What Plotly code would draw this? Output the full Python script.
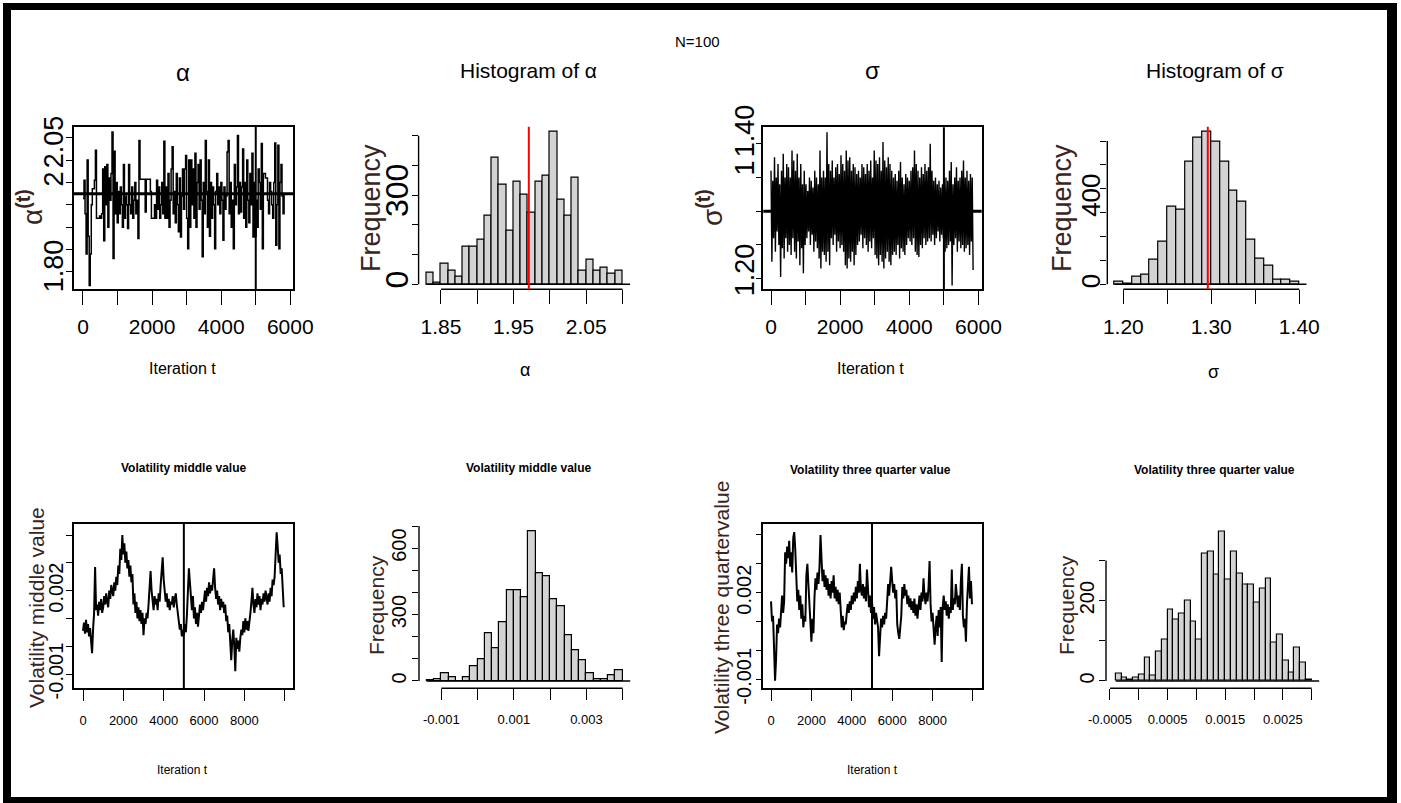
import plotly.graph_objects as go

W, H = 1401, 803

# ---------------- data ----------------
burn_in = 5000

alpha_trace_step = 30
alpha_trace = [
    1.964, 2.005, 1.93, 1.84, 2.05, 1.88, 1.77, 1.84, 1.95, 1.986,
    1.986, 2.005, 2.072, 1.92, 1.92, 1.92, 1.925, 1.92, 1.93, 2.03,
    1.87, 2.035, 1.95, 2.04, 1.90, 2.01, 1.96, 2.02, 2.113, 1.83,
    2.07, 1.93, 2.00, 1.91, 1.98, 1.93, 1.99, 1.95, 1.90, 2.04,
    1.92, 1.97, 1.95, 1.897, 2.04, 1.95, 1.93, 1.99, 1.92, 1.96,
    2.00, 1.93, 1.96, 1.875, 2.094, 2.007, 2.007, 2.007, 2.007, 2.007,
    1.934, 2.007, 2.007, 2.007, 2.007, 1.98, 1.92, 1.92, 1.92, 1.95,
    1.92, 2.005, 1.94, 1.99, 1.92, 1.95, 2.00, 1.93, 2.092, 1.92,
    1.99, 1.92, 2.02, 1.90, 1.96, 2.03, 2.08, 1.93, 1.98, 1.91,
    2.02, 1.95, 1.89, 2.01, 1.878, 1.97, 2.03, 1.94, 2.03, 2.06,
    1.92, 1.852, 2.05, 1.90, 2.05, 1.95, 2.03, 1.92, 2.065, 1.90,
    2.00, 2.04, 1.94, 2.05, 1.96, 1.834, 2.00, 1.93, 2.094, 1.98,
    1.90, 2.05, 1.88, 2.00, 1.92, 1.99, 1.95, 1.852, 1.98, 2.02,
    1.95, 1.99, 1.93, 2.00, 1.96, 1.871, 1.99, 1.94, 1.97, 2.068,
    2.094, 1.93, 2.00, 1.90, 1.96, 1.852, 2.04, 1.95, 1.99, 2.105,
    1.93, 2.00, 1.934, 1.99, 2.075, 1.92, 2.00, 1.90, 2.05, 1.96,
    1.91, 2.02, 1.95, 2.065, 1.878, 2.00, 1.88, 1.96, 1.90, 2.03,
    2.00, 1.94, 2.087, 1.852, 2.02, 2.02, 2.01, 2.01, 1.96, 1.93,
    2.00, 1.98, 1.95, 1.92, 2.00, 2.088, 1.86, 1.95, 2.083, 1.852,
    2.00, 2.04, 1.97, 1.93, 1.975,
]
alpha_mean_line = 1.975

sigma_trace_step = 25.3
sigma_trace = [
    1.36, 1.225, 1.345, 1.26, 1.38, 1.24, 1.35, 1.27, 1.37, 1.25,
    1.34, 1.2025, 1.36, 1.245, 1.385, 1.23, 1.35, 1.26, 1.37, 1.24,
    1.365, 1.25, 1.35, 1.235, 1.39, 1.26, 1.375, 1.24, 1.36, 1.23,
    1.385, 1.255, 1.35, 1.22, 1.37, 1.245, 1.34, 1.208, 1.36, 1.25,
    1.34, 1.26, 1.33, 1.27, 1.35, 1.25, 1.345, 1.265, 1.335, 1.24,
    1.36, 1.255, 1.35, 1.245, 1.34, 1.23, 1.39, 1.215, 1.35, 1.24,
    1.36, 1.235, 1.35, 1.225, 1.417, 1.24, 1.37, 1.22, 1.36, 1.26,
    1.375, 1.25, 1.35, 1.265, 1.365, 1.24, 1.37, 1.255, 1.355, 1.245,
    1.383, 1.25, 1.37, 1.24, 1.36, 1.22, 1.39, 1.215, 1.375, 1.23,
    1.38, 1.225, 1.36, 1.24, 1.37, 1.22, 1.365, 1.235, 1.355, 1.25,
    1.36, 1.255, 1.35, 1.265, 1.37, 1.245, 1.365, 1.26, 1.355, 1.25,
    1.37, 1.24, 1.36, 1.255, 1.375, 1.245, 1.35, 1.26, 1.39, 1.235,
    1.375, 1.23, 1.37, 1.22, 1.38, 1.235, 1.36, 1.225, 1.4025, 1.215,
    1.375, 1.23, 1.365, 1.24, 1.38, 1.225, 1.37, 1.22, 1.36, 1.235,
    1.35, 1.24, 1.355, 1.235, 1.345, 1.25, 1.36, 1.23, 1.373, 1.245,
    1.35, 1.24, 1.34, 1.235, 1.355, 1.25, 1.35, 1.26, 1.345, 1.255,
    1.36, 1.25, 1.365, 1.26, 1.39, 1.24, 1.37, 1.235, 1.36, 1.232,
    1.35, 1.25, 1.365, 1.245, 1.355, 1.26, 1.37, 1.25, 1.36, 1.255,
    1.365, 1.26, 1.40, 1.255, 1.36, 1.265, 1.345, 1.25, 1.35, 1.26,
    1.34, 1.27, 1.345, 1.255, 1.335, 1.265, 1.34, 1.26, 1.35, 1.24,
    1.35, 1.245, 1.345, 1.25, 1.36, 1.255, 1.373, 1.19, 1.34, 1.25,
    1.35, 1.26, 1.365, 1.24, 1.345, 1.255, 1.35, 1.245, 1.36, 1.25,
    1.375, 1.24, 1.35, 1.245, 1.36, 1.25, 1.345, 1.235, 1.355, 1.255,
    1.35, 1.213,
]
sigma_mean_line = 1.30

alpha_hist_start = 1.83
alpha_hist_width = 0.01
alpha_hist_counts = [39, 7, 70, 46, 27, 125, 125, 150, 230, 426, 335, 180, 345, 303,
                     242, 345, 365, 515, 284, 230, 358, 45, 82, 45, 57, 37, 46]
alpha_hist_mean = 1.971

sigma_hist_start = 1.19
sigma_hist_width = 0.01
sigma_hist_counts = [11, 3, 32, 40, 102, 177, 325, 314, 513, 614, 639, 597, 513, 391,
                     346, 185, 109, 78, 18, 18, 10]
sigma_hist_mean = 1.296

vol_mid_step = 50
vol_mid_trace = [
    0.00055, 0.00085, 0.00045, 0.00095, 0.00050, 0.00080, 0.00035, 0.00065, 0.00020, -0.00025,
    0.00060, 0.00120, 0.00285, 0.00130, 0.00150, 0.00110, 0.00160, 0.00130, 0.00170, 0.00120,
    0.00140, 0.00180, 0.00150, 0.00190, 0.00160, 0.00140, 0.00200, 0.00170, 0.00220, 0.00190,
    0.00180, 0.00230, 0.00200, 0.00250, 0.00220, 0.00290, 0.00260, 0.00350, 0.00310, 0.00400,
    0.00330, 0.00370, 0.00300, 0.00340, 0.00280, 0.00310, 0.00250, 0.00290, 0.00230, 0.00260,
    0.00150, 0.00190, 0.00120, 0.00160, 0.00100, 0.00140, 0.00090, 0.00130, 0.00080, 0.00120,
    0.00040, 0.00100, 0.00080, 0.00120, 0.00100, 0.00150, 0.00200, 0.00270, 0.00200, 0.00160,
    0.00130, 0.00180, 0.00150, 0.00170, 0.00130, 0.00190, 0.00160, 0.00220, 0.00260, 0.00320,
    0.00240, 0.00200, 0.00160, 0.00190, 0.00140, 0.00170, 0.00130, 0.00160, 0.00150, 0.00180,
    0.00140, 0.00170, 0.00190, 0.00150, 0.00120, 0.00090, 0.00060, 0.00080, 0.00035, 0.00060,
    0.00040, 0.00080, 0.00050, 0.00110, 0.00190, 0.00280, 0.00230, 0.00160, 0.00130, 0.00180,
    0.00100, 0.00140, 0.00080, 0.00120, 0.00070, 0.00110, 0.00150, 0.00120, 0.00160, 0.00130,
    0.00170, 0.00200, 0.00160, 0.00210, 0.00180, 0.00230, 0.00190, 0.00220, 0.00200, 0.00250,
    0.00280, 0.00210, 0.00170, 0.00200, 0.00150, 0.00180, 0.00130, 0.00170, 0.00140, 0.00160,
    0.00120, 0.00150, 0.00090, 0.00110, 0.00050, 0.00080, 0.00030, -0.00050, 0.00020, 0.00060,
    0.00000, -0.00090, 0.00030, -0.00010, 0.00020, -0.00020, 0.00030, 0.00060, 0.00040, 0.00090,
    0.00050, 0.00100, 0.00060, 0.00090, 0.00055, 0.00080, 0.00120, 0.00160, 0.00210, 0.00150,
    0.00120, 0.00170, 0.00140, 0.00190, 0.00150, 0.00180, 0.00130, 0.00170, 0.00150, 0.00190,
    0.00160, 0.00200, 0.00170, 0.00150, 0.00190, 0.00160, 0.00210, 0.00180, 0.00240, 0.00220,
    0.00250, 0.00320, 0.00410, 0.00360, 0.00300, 0.00330, 0.00260, 0.00280, 0.00190, 0.00140,
]

vol_mid_hist_start = -0.0014
vol_mid_hist_width = 0.0002
vol_mid_hist_counts = [2, 9, 35, 18, 0, 18, 65, 99, 215, 148, 264, 411, 411, 380,
                       678, 486, 471, 369, 339, 208, 140, 92, 35, 9, 9, 27, 50]

vol_tq_step = 50
vol_tq_trace = [
    0.00170, 0.00100, 0.00120, 0.00010, -0.00105, -0.00030, 0.00090, 0.00060, 0.00110, 0.00080,
    0.00150, 0.00190, 0.00130, 0.00170, 0.00340, 0.00300, 0.00360, 0.00320, 0.00380, 0.00290,
    0.00340, 0.00270, 0.00390, 0.00410, 0.00350, 0.00230, 0.00170, 0.00210, 0.00140, 0.00190,
    0.00110, 0.00160, 0.00080, 0.00120, 0.00100, 0.00260, 0.00300, 0.00230, 0.00150, 0.00090,
    0.00030, 0.00110, 0.00060, 0.00180, 0.00250, 0.00210, 0.00270, 0.00230, 0.00290, 0.00400,
    0.00310, 0.00240, 0.00280, 0.00220, 0.00260, 0.00210, 0.00250, 0.00190, 0.00230, 0.00180,
    0.00240, 0.00200, 0.00260, 0.00180, 0.00220, 0.00170, 0.00210, 0.00160, 0.00200, 0.00120,
    0.00080, 0.00120, 0.00070, 0.00100, 0.00090, 0.00130, 0.00160, 0.00130, 0.00170, 0.00140,
    0.00190, 0.00160, 0.00200, 0.00170, 0.00220, 0.00180, 0.00240, 0.00200, 0.00300, 0.00210,
    0.00190, 0.00230, 0.00180, 0.00220, 0.00170, 0.00280, 0.00200, 0.00150, 0.00190, 0.00130,
    0.00170, 0.00110, 0.00150, 0.00090, 0.00130, 0.00100, 0.00080, -0.00020, 0.00070, 0.00110,
    0.00080, 0.00120, 0.00090, 0.00130, 0.00110, 0.00200, 0.00230, 0.00190, 0.00250, 0.00290,
    0.00240, 0.00200, 0.00230, 0.00180, 0.00210, 0.00090, 0.00060, 0.00040, 0.00080, 0.00120,
    0.00220, 0.00180, 0.00230, 0.00190, 0.00210, 0.00160, 0.00190, 0.00150, 0.00180, 0.00140,
    0.00170, 0.00130, 0.00180, 0.00120, 0.00160, 0.00110, 0.00150, 0.00190, 0.00140, 0.00200,
    0.00170, 0.00250, 0.00190, 0.00160, 0.00200, 0.00170, 0.00220, 0.00310, 0.00160, 0.00100,
    0.00130, 0.00070, 0.00020, 0.00080, 0.00120, 0.00050, 0.00140, 0.00080, 0.00150, -0.00040,
    0.00150, 0.00190, 0.00140, 0.00170, 0.00120, 0.00160, 0.00110, 0.00150, 0.00130, 0.00280,
    0.00140, 0.00180, 0.00160, 0.00230, 0.00170, 0.00150, 0.00190, 0.00140, 0.00240, 0.00300,
    0.00120, 0.00080, 0.00110, 0.00030, 0.00160, 0.00210, 0.00290, 0.00180, 0.00240, 0.00160,
]

vol_tq_hist_start = -0.0004
vol_tq_hist_width = 0.0001
vol_tq_hist_counts = [19, 9, 4, 9, 17, 59, 14, 72, 104, 177, 154, 168, 199, 149, 104, 318, 322,
                      264, 372, 253, 322, 268, 241, 241, 195, 231, 255, 95, 115, 51, 22, 82, 46, 4]

# tick marks
alpha_trace_xticks = [0, 1000, 2000, 3000, 4000, 5000, 6000]
alpha_trace_xlabels = ["0", "", "2000", "", "4000", "", "6000"]
alpha_trace_yticks = [1.80, 1.85, 1.90, 1.95, 2.00, 2.05, 2.10]
sigma_trace_yticks = [1.20, 1.25, 1.30, 1.35, 1.40]
alpha_hist_xticks = [1.85, 1.90, 1.95, 2.00, 2.05, 2.10]
alpha_hist_xlabels = ["1.85", "", "1.95", "", "2.05", ""]
alpha_hist_yticks = [0, 100, 200, 300, 400, 500]
alpha_hist_ylabels = ["0", "", "", "300", "", ""]
sigma_hist_xticks = [1.20, 1.25, 1.30, 1.35, 1.40]
sigma_hist_xlabels = ["1.20", "", "1.30", "", "1.40"]
sigma_hist_yticks = [0, 100, 200, 300, 400, 500, 600]
vol_trace_xticks = [0, 2000, 4000, 6000, 8000, 10000]
vol_trace_xlabels = ["0", "2000", "4000", "6000", "8000", ""]
vol_trace_yticks = [-0.001, 0.0, 0.001, 0.002, 0.003, 0.004]
vol_trace_ylabels = ["-0.001", "", "", "0.002", "", ""]
vol_mid_hist_xticks = [-0.001, 0.0, 0.001, 0.002, 0.003, 0.004]
vol_mid_hist_xlabels = ["-0.001", "", "0.001", "", "0.003", ""]
vol_mid_hist_yticks = [0, 100, 200, 300, 400, 500, 600, 700]
vol_mid_hist_ylabels = ["0", "", "", "300", "", "", "600", ""]
vol_tq_hist_xticks = [-0.0005, 0.0, 0.0005, 0.001, 0.0015, 0.002, 0.0025, 0.003]
vol_tq_hist_xlabels = ["-0.0005", "", "0.0005", "", "0.0015", "", "0.0025", ""]
vol_tq_hist_yticks = [0, 100, 200, 300]
vol_tq_hist_ylabels = ["0", "", "200", ""]

# tick-label positions as printed in the figure (slightly offset from their marks)
alpha_trace_label_at = [1.8045, 1.9988, 2.0814]
alpha_trace_label_txt = ["1.80", "2", "2.05"]
sigma_trace_label_at = [1.207, 1.358, 1.4129]
sigma_trace_label_txt = ["1.20", "1", "1.40"]
sigma_hist_label_at = [-3, 357]
sigma_hist_label_txt = ["0", "400"]

# ---------------- styling / layout helpers ----------------
FONT = "Liberation Sans, Arial, sans-serif"
YT_COLOR = "#3a2420"
BAR_FILL = "#d3d3d3"


def dx_(a, b):
    return [a / W, b / W]


def dy_(top, bottom):
    return [1 - bottom / H, 1 - top / H]


def base_axis(rng, fsize):
    return dict(range=rng, tickmode="array", showgrid=False, zeroline=False, fixedrange=True,
                automargin=False, linecolor="black", linewidth=1.6, tickcolor="black",
                tickwidth=1.3, tickfont=dict(family=FONT, size=fsize, color="black"))


def xax(anchor, dom, rng, tv, tt, fsize, tlen, box, standoff):
    d = base_axis(rng, fsize)
    d.update(domain=dx_(*dom), anchor=anchor, tickvals=tv, ticktext=tt, ticks="outside",
             ticklen=tlen, showline=box, mirror=box, ticklabelstandoff=standoff)
    return d


def yax(anchor, dom, rng, tv, tt, fsize, tlen, box, standoff, marks=None):
    d = base_axis(rng, fsize)
    d.update(domain=dy_(*dom), anchor=anchor, tickvals=tv, ticktext=tt, showline=box, mirror=box,
             tickangle=-90, ticklabelstandoff=standoff)
    if marks is None:
        d.update(ticks="outside", ticklen=tlen)
    else:
        d.update(ticks="", minor=dict(tickmode="array", tickvals=marks, ticks="outside",
                                       ticklen=tlen, tickwidth=1.3, tickcolor="black", showgrid=False))
    return d


fig = go.Figure()

# ---- traces (MCMC paths) ----
fig.add_trace(go.Scatter(y=alpha_trace, x0=0, dx=alpha_trace_step, mode="lines",
                         line=dict(color="black", width=1.5, shape="hv"),
                         xaxis="x", yaxis="y", showlegend=False))
fig.add_trace(go.Scatter(y=sigma_trace, x0=0, dx=sigma_trace_step, mode="lines",
                         line=dict(color="black", width=1.4),
                         xaxis="x3", yaxis="y3", showlegend=False))
fig.add_trace(go.Scatter(y=vol_mid_trace, x0=0, dx=vol_mid_step, mode="lines",
                         line=dict(color="black", width=2),
                         xaxis="x5", yaxis="y5", showlegend=False))
fig.add_trace(go.Scatter(y=vol_tq_trace, x0=0, dx=vol_tq_step, mode="lines",
                         line=dict(color="black", width=2),
                         xaxis="x7", yaxis="y7", showlegend=False))

# ---- histograms ----
hists = [
    ("x2", "y2", alpha_hist_start, alpha_hist_width, alpha_hist_counts),
    ("x4", "y4", sigma_hist_start, sigma_hist_width, sigma_hist_counts),
    ("x6", "y6", vol_mid_hist_start, vol_mid_hist_width, vol_mid_hist_counts),
    ("x8", "y8", vol_tq_hist_start, vol_tq_hist_width, vol_tq_hist_counts),
]
for xa, ya, start, w, counts in hists:
    fig.add_trace(go.Bar(y=counts, x0=start + w / 2, dx=w, width=w,
                         marker=dict(color=BAR_FILL, line=dict(color="black", width=1.2)),
                         xaxis=xa, yaxis=ya, showlegend=False))

# ---- axes ----
P1 = dict(x=(74, 293), y=(127, 289), xr=[-260, 6078], yr=[1.762, 2.1239])
P2 = dict(x=(418.6, 630.3), y=(126.7, 289.3), xr=[1.8192, 2.1108], yr=[-16.8, 530.6])
P3 = dict(x=(763.3, 981.7), y=(127.3, 289.3), xr=[-223, 6093], yr=[1.1843, 1.4243])
P4 = dict(x=(1107.3, 1306.7), y=(126.7, 289.3), xr=[1.1818, 1.4084], yr=[-20.9, 660])
P5 = dict(x=(74, 293.3), y=(524, 688.3), xr=[-446, 10426], yr=[-0.001514, 0.0043957])
P6 = dict(x=(419, 630.5), y=(522.3, 688.3), xr=[-0.001616, 0.004216], yr=[-33, 716.8])
P7 = dict(x=(763.3, 981.7), y=(524, 688.3), xr=[-382, 10431], yr=[-0.001312, 0.004379])
P8 = dict(x=(1106, 1319.4), y=(525.6, 688.3), xr=[-0.000569, 0.003134], yr=[-18.2, 386.9])

lay = {}
lay["xaxis"] = xax("y", P1["x"], P1["xr"], alpha_trace_xticks, alpha_trace_xlabels, 21, 14, True, 4)
lay["yaxis"] = yax("x", P1["y"], P1["yr"], alpha_trace_label_at, alpha_trace_label_txt, 27, 6, True, -2,
                   marks=alpha_trace_yticks)
lay["xaxis2"] = xax("y2", P2["x"], P2["xr"], alpha_hist_xticks, alpha_hist_xlabels, 21, 14, False, 4)
lay["yaxis2"] = yax("x2", P2["y"], P2["yr"], alpha_hist_yticks, alpha_hist_ylabels, 32, 6, False, -9)
lay["xaxis3"] = xax("y3", P3["x"], P3["xr"], alpha_trace_xticks, alpha_trace_xlabels, 21, 14, True, 4)
lay["yaxis3"] = yax("x3", P3["y"], P3["yr"], sigma_trace_label_at, sigma_trace_label_txt, 27, 6, True, -3,
                    marks=sigma_trace_yticks)
lay["xaxis4"] = xax("y4", P4["x"], P4["xr"], sigma_hist_xticks, sigma_hist_xlabels, 21, 14, False, 4)
lay["yaxis4"] = yax("x4", P4["y"], P4["yr"], sigma_hist_label_at, sigma_hist_label_txt, 26, 6, False, 1,
                    marks=sigma_hist_yticks)
lay["xaxis5"] = xax("y5", P5["x"], P5["xr"], vol_trace_xticks, vol_trace_xlabels, 13, 11, True, 8)
lay["yaxis5"] = yax("x5", P5["y"], P5["yr"], vol_trace_yticks, vol_trace_ylabels, 20, 6, True, -5)
lay["xaxis6"] = xax("y6", P6["x"], P6["xr"], vol_mid_hist_xticks, vol_mid_hist_xlabels, 13, 11, False, 8)
lay["yaxis6"] = yax("x6", P6["y"], P6["yr"], vol_mid_hist_yticks, vol_mid_hist_ylabels, 20, 6, False, -2)
lay["xaxis7"] = xax("y7", P7["x"], P7["xr"], vol_trace_xticks, vol_trace_xlabels, 13, 11, True, 8)
lay["yaxis7"] = yax("x7", P7["y"], P7["yr"], vol_trace_yticks, vol_trace_ylabels, 20, 6, True, -3)
lay["xaxis8"] = xax("y8", P8["x"], P8["xr"], vol_tq_hist_xticks, vol_tq_hist_xlabels, 13, 11, False, 8)
lay["yaxis8"] = yax("x8", P8["y"], P8["yr"], vol_tq_hist_yticks, vol_tq_hist_ylabels, 20, 6, False, -3)

shapes = []
# R-style axis lines for histograms (from first to last tick)
for n, xt, yt in [(2, alpha_hist_xticks, alpha_hist_yticks), (4, sigma_hist_xticks, sigma_hist_yticks),
                  (6, vol_mid_hist_xticks, vol_mid_hist_yticks), (8, vol_tq_hist_xticks, vol_tq_hist_yticks)]:
    shapes.append(dict(type="line", xref=f"x{n}", yref=f"y{n} domain", x0=xt[0], x1=xt[-1], y0=0, y1=0,
                       line=dict(color="black", width=1.4)))
    shapes.append(dict(type="line", xref=f"x{n} domain", yref=f"y{n}", x0=0, x1=0, y0=yt[0], y1=yt[-1],
                       line=dict(color="black", width=1.4)))
# histogram base lines
for n, start, rng in [(2, alpha_hist_start, P2["xr"]), (4, sigma_hist_start, P4["xr"]),
                      (6, vol_mid_hist_start, P6["xr"]), (8, vol_tq_hist_start, P8["xr"])]:
    shapes.append(dict(type="line", xref=f"x{n}", yref=f"y{n}", x0=start, x1=rng[1], y0=0, y1=0,
                       line=dict(color="black", width=1.6)))
# posterior mean lines in histograms
for n, m in [(2, alpha_hist_mean), (4, sigma_hist_mean)]:
    shapes.append(dict(type="line", xref=f"x{n}", yref=f"y{n} domain", x0=m, x1=m, y0=0, y1=1,
                       line=dict(color="red", width=2)))
# mean level lines in trace plots
for n, m in [("", alpha_mean_line), ("3", sigma_mean_line)]:
    shapes.append(dict(type="line", xref=f"x{n} domain", yref=f"y{n}", x0=0, x1=1, y0=m, y1=m,
                       line=dict(color="black", width=3)))
# burn-in lines
for n in ["", "3", "5", "7"]:
    shapes.append(dict(type="line", xref=f"x{n}", yref=f"y{n} domain", x0=burn_in, x1=burn_in, y0=0, y1=1,
                       line=dict(color="black", width=2)))
# outer black frame
for (a, b, c, d) in [(3, 3, 11, 803), (3, 3, 1397, 10), (1387, 3, 1397, 803), (3, 797, 1397, 803)]:
    shapes.append(dict(type="rect", xref="paper", yref="paper", x0=a / W, x1=c / W,
                       y0=1 - d / H, y1=1 - b / H, fillcolor="black", line=dict(width=0), layer="above"))


def ann(text, x, y, size, angle=0, color="black"):
    return dict(text=text, x=x / W, y=1 - y / H, xref="paper", yref="paper", showarrow=False,
                xanchor="center", yanchor="middle", textangle=angle,
                font=dict(family=FONT, size=size, color=color))


annotations = [
    ann("N=100", 697, 42, 15),
    ann("α", 183, 72, 24),
    ann("Histogram of α", 528, 70, 21),
    ann("σ", 872, 70, 24),
    ann("Histogram of σ", 1215, 70, 21),
    ann("Iteration t", 183, 368, 16),
    ann("α", 525, 370, 18),
    ann("Iteration t", 870, 368, 16),
    ann("σ", 1213, 372, 18),
    ann("<b>Volatility middle value</b>", 183.5, 468, 12),
    ann("<b>Volatility middle value</b>", 528, 468, 12),
    ann("<b>Volatility three quarter value</b>", 870.5, 470, 12),
    ann("<b>Volatility three quarter value</b>", 1214.5, 470, 12),
    ann("Iteration t", 183, 770, 12),
    ann("Iteration t", 872, 770, 12),
    ann("α<sup><b>(t)</b></sup>", 30, 207, 28, -90, YT_COLOR),
    ann("Frequency", 371, 208, 27, -90, YT_COLOR),
    ann("σ<sup><b>(t)</b></sup>", 710, 208, 28, -90, YT_COLOR),
    ann("Frequency", 1062, 208, 27, -90, YT_COLOR),
    ann("Volatility middle value", 36, 608, 21, -90, YT_COLOR),
    ann("Frequency", 376, 605, 21, -90, YT_COLOR),
    ann("Volatility three quartervalue", 721, 608, 21, -90, YT_COLOR),
    ann("Frequency", 1066, 605, 21, -90, YT_COLOR),
]

fig.update_layout(template="none", width=W, height=H, autosize=False,
                  margin=dict(l=0, r=0, t=0, b=0, pad=0, autoexpand=False),
                  paper_bgcolor="white", plot_bgcolor="rgba(0,0,0,0)",
                  showlegend=False, bargap=0, shapes=shapes, annotations=annotations, **lay)

fig.write_html("out.html", config={"displayModeBar": False})
